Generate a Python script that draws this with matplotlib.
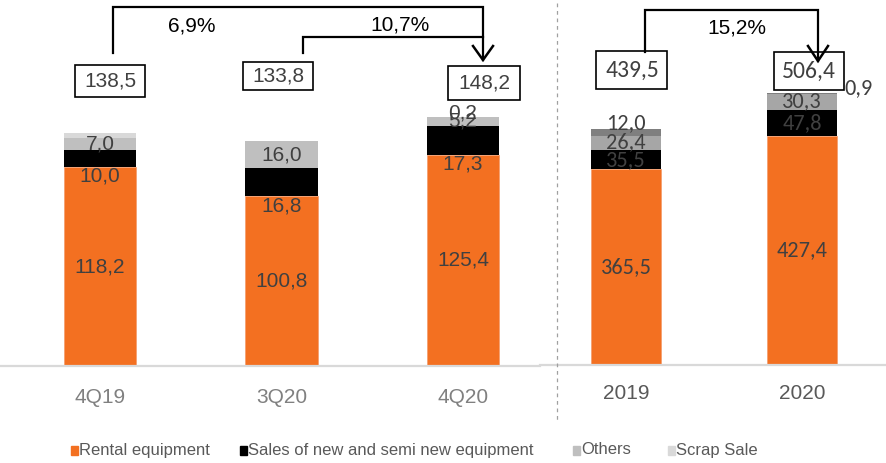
import matplotlib
matplotlib.use("Agg")
import matplotlib.pyplot as plt
from matplotlib import font_manager
from matplotlib.patches import Rectangle
from matplotlib.lines import Line2D

# ---------------- data ----------------
q_categories = ["4Q19", "3Q20", "4Q20"]
q_rental = [118.2, 100.8, 125.4]
q_sales = [10.0, 16.8, 17.3]
q_others = [7.0, 16.0, 5.2]
q_scrap = [3.3, 0.2, 0.2]
q_totals = ["138,5", "133,8", "148,2"]

y_categories = ["2019", "2020"]
y_rental = [365.5, 427.4]
y_sales = [35.5, 47.8]
y_others = [26.4, 30.3]
y_scrap = [12.0, 0.9]
y_totals = ["439,5", "506,4"]

growth_q = ["6,9%", "10,7%"]
growth_y = ["15,2%"]

legend_labels = ["Rental equipment", "Sales of new and semi new equipment", "Others", "Scrap Sale"]

# ---------------- style ----------------
names = {f.name for f in font_manager.fontManager.ttflist}
ARIAL = "Liberation Sans" if "Liberation Sans" in names else "DejaVu Sans"
CALIBRI = "Carlito" if "Carlito" in names else ("Lato" if "Lato" in names else ARIAL)

ORANGE = "#F37021"
BLACK = "#000000"
LTXT = "#404040"

W, H = 887, 463
fig = plt.figure(figsize=(W / 100, H / 100), dpi=100)


def fx(x):
    return x / W


def fy(y):
    return 1 - y / H


def fmt(v):
    return f"{v:.1f}".replace(".", ",")


axL = fig.add_axes([0, fy(366), 540 / W, 366 / H])
axR = fig.add_axes([540 / W, fy(365), 347 / W, 365 / H])

for ax in (axL, axR):
    for s in ("top", "left", "right"):
        ax.spines[s].set_visible(False)
    ax.spines["bottom"].set_color("#d9d9d9")
    ax.spines["bottom"].set_linewidth(1.6)
    ax.set_yticks([])
    ax.tick_params(axis="x", length=0, pad=16)
    ax.patch.set_alpha(0)

# ---------------- left panel ----------------
xl = list(range(len(q_categories)))
bw = 0.40
b1 = q_rental
b2 = [a + b for a, b in zip(b1, q_sales)]
b3 = [a + b for a, b in zip(b2, q_others)]
axL.bar(xl, q_rental, bw, color=ORANGE, edgecolor="#f5a070", linewidth=0.6)
axL.bar(xl, q_sales, bw, bottom=b1, color=BLACK)
axL.bar(xl, q_others, bw, bottom=b2, color="#BFBFBF")
axL.bar(xl, q_scrap, bw, bottom=b3, color="#D9D9D9")
axL.set_xlim(-100 / 181.5, 440 / 181.5)
axL.set_ylim(0, 366 / 1.683)
axL.set_xticks(xl)
axL.set_xticklabels(q_categories, fontfamily=ARIAL, fontsize=15, color="#808080")

lk = dict(ha="center", va="center", fontfamily=ARIAL, fontsize=15, color=LTXT)
for i in xl:
    axL.text(i, q_rental[i] / 2, fmt(q_rental[i]), **lk)
    axL.text(i, q_rental[i] - 5.5, fmt(q_sales[i]), **lk)
    axL.text(i, b2[i] + q_others[i] / 2, fmt(q_others[i]), **lk)
axL.text(2, b3[2] + q_scrap[2] / 2 + 2.5, fmt(q_scrap[2]), **lk)

# ---------------- right panel ----------------
xr = list(range(len(y_categories)))
c1 = y_rental
c2 = [a + b for a, b in zip(c1, y_sales)]
c3 = [a + b for a, b in zip(c2, y_others)]
c4 = [a + b for a, b in zip(c3, y_scrap)]
axR.bar(xr, y_rental, bw, color=ORANGE, edgecolor="#f5a070", linewidth=0.6)
axR.bar(xr, y_sales, bw, bottom=c1, color=BLACK)
axR.bar(xr, y_others, bw, bottom=c2, color="#A6A6A6")
axR.bar(xr, y_scrap, bw, bottom=c3, color="#7F7F7F")
axR.set_xlim(-86 / 176, 261 / 176)
axR.set_ylim(0, 365 / 0.5365)
axR.set_xticks(xr)
axR.set_xticklabels(y_categories, fontfamily=ARIAL, fontsize=15, color="#595959")
axR.tick_params(axis="x", pad=14)

rk = dict(ha="center", va="center", fontfamily=CALIBRI, fontsize=16, color=LTXT)
for i in xr:
    axR.text(i, y_rental[i] / 2, fmt(y_rental[i]), **rk)
    axR.text(i, c1[i] + y_sales[i] / 2 - 1, fmt(y_sales[i]), **rk)
    axR.text(i, c2[i] + y_others[i] / 2 + 1, fmt(y_others[i]), **rk)
axR.text(0, c4[0] + 12, fmt(y_scrap[0]), **rk)
axR.text(1.32, c4[1] + 10, fmt(y_scrap[1]), **rk)

# ---------------- total boxes ----------------
def box(cx, cy, w, h, txt, family, size):
    fig.patches.append(Rectangle((fx(cx - w / 2), fy(cy + h / 2)), w / W, h / H,
                                 transform=fig.transFigure, fill=False,
                                 edgecolor="black", linewidth=1.2))
    fig.text(fx(cx), fy(cy), txt, ha="center", va="center", fontfamily=family,
             fontsize=size, color=LTXT)


box(110, 81, 70, 32, q_totals[0], ARIAL, 15)
box(278, 76, 70, 28, q_totals[1], ARIAL, 15)
box(484, 83, 72, 34, q_totals[2], ARIAL, 15)
box(632, 70, 71, 37, y_totals[0], CALIBRI, 17)
box(809, 71, 70, 38, y_totals[1], CALIBRI, 17)


# ---------------- brackets ----------------
def poly(pts, lw=1.6):
    fig.add_artist(Line2D([fx(p[0]) for p in pts], [fy(p[1]) for p in pts],
                          transform=fig.transFigure, color="black", linewidth=lw,
                          solid_joinstyle="miter"))


poly([(113, 53), (113, 7), (483, 7), (483, 60)])
poly([(303, 53), (303, 37), (483, 37)])
poly([(473, 46), (483, 60), (493, 46)], lw=1.8)
poly([(645, 52), (645, 10), (818, 10), (818, 61)])
poly([(808, 46), (818, 61), (828, 46)], lw=1.8)

fig.text(fx(192), fy(26), growth_q[0], ha="center", va="center", fontfamily=ARIAL,
         fontsize=15, color="black")
fig.text(fx(400), fy(25), growth_q[1], ha="center", va="center", fontfamily=ARIAL,
         fontsize=15, color="black")
fig.text(fx(737), fy(28), growth_y[0], ha="center", va="center", fontfamily=ARIAL,
         fontsize=15, color="black")

# ---------------- divider ----------------
fig.add_artist(Line2D([fx(557), fx(557)], [fy(3), fy(420)], transform=fig.transFigure,
                      color="#a0a0a0", linewidth=0.9, linestyle=(0, (3, 3))))

# ---------------- legend ----------------
leg_colors = [ORANGE, BLACK, "#BFBFBF", "#D9D9D9"]
leg_x = [71, 240, 573, 668]
for c, x0, lab in zip(leg_colors, leg_x, legend_labels):
    fig.patches.append(Rectangle((fx(x0), fy(455)), 7 / W, 9 / H,
                                 transform=fig.transFigure, color=c))
    fig.text(fx(x0 + 8), fy(450), lab, ha="left", va="center", fontfamily=ARIAL,
             fontsize=12, color="#595959")

fig.savefig("out.png", dpi=100)
